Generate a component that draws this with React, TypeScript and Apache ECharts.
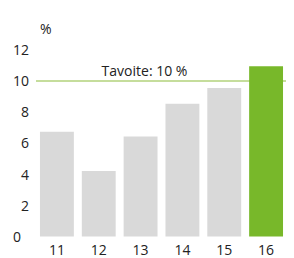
import React, { useEffect, useRef } from "react";
import * as echarts from "echarts";

const categories = ["11", "12", "13", "14", "15", "16"];
const values = [6.7, 4.2, 6.4, 8.5, 9.5, 10.9];
const target = 10;
const targetLabel = "Tavoite: 10 %";
const unitLabel = "%";
const greyColor = "#d9d9d9";
const highlightColor = "#78b82a";
const targetColor = "#c5dd9c";
const FONT = "Open Sans";

export default function App() {
  const ref = useRef<HTMLDivElement>(null);
  useEffect(() => {
    if (!ref.current) return;
    const chart = echarts.init(ref.current, undefined, { renderer: "svg" });
    chart.setOption({
      animation: false,
      textStyle: { fontFamily: FONT },
      grid: { left: 36, right: 7, top: 49, bottom: 21.5, containLabel: false },
      xAxis: {
        type: "category",
        data: categories,
        axisLine: { show: false },
        axisTick: { show: false },
        axisLabel: { color: "#222", fontSize: 14, margin: 6, fontFamily: FONT },
      },
      yAxis: {
        type: "value",
        min: 0,
        max: 12,
        interval: 2,
        name: unitLabel,
        nameLocation: "end",
        nameGap: 14,
        nameTextStyle: { color: "#222", fontSize: 14, align: "left", padding: [0, 0, 0, 4], fontFamily: FONT },
        axisLine: { show: false },
        axisTick: { show: false },
        splitLine: { show: false },
        axisLabel: {
          color: "#222",
          fontSize: 14,
          margin: 7,
          fontFamily: FONT,
          formatter: (v: number) => (v === 0 ? "{z|0}" : String(v)),
          rich: { z: { fontSize: 14, color: "#222", fontFamily: FONT, padding: [0, 8, 0, 0] } },
        },
      },
      series: [
        {
          type: "line",
          data: [],
          z: 1,
          silent: true,
          markLine: {
            z: 1,
            symbol: "none",
            silent: true,
            lineStyle: { color: targetColor, width: 2, type: "solid" },
            label: {
              show: true,
              position: "middle",
              formatter: targetLabel,
              color: "#222",
              fontSize: 14,
              fontFamily: FONT,
              distance: 3,
              padding: [0, 34, 0, 0],
            },
            data: [{ yAxis: target }],
          },
        },
        {
          type: "bar",
          z: 3,
          data: values.map((v, i) => ({
            value: v,
            itemStyle: { color: i === values.length - 1 ? highlightColor : greyColor },
          })),
          barCategoryGap: "19%",
        },
      ],
    });
    return () => chart.dispose();
  }, []);
  return <div ref={ref} style={{ width: 294, height: 258, marginLeft: -8, marginTop: -8 }} />;
}
